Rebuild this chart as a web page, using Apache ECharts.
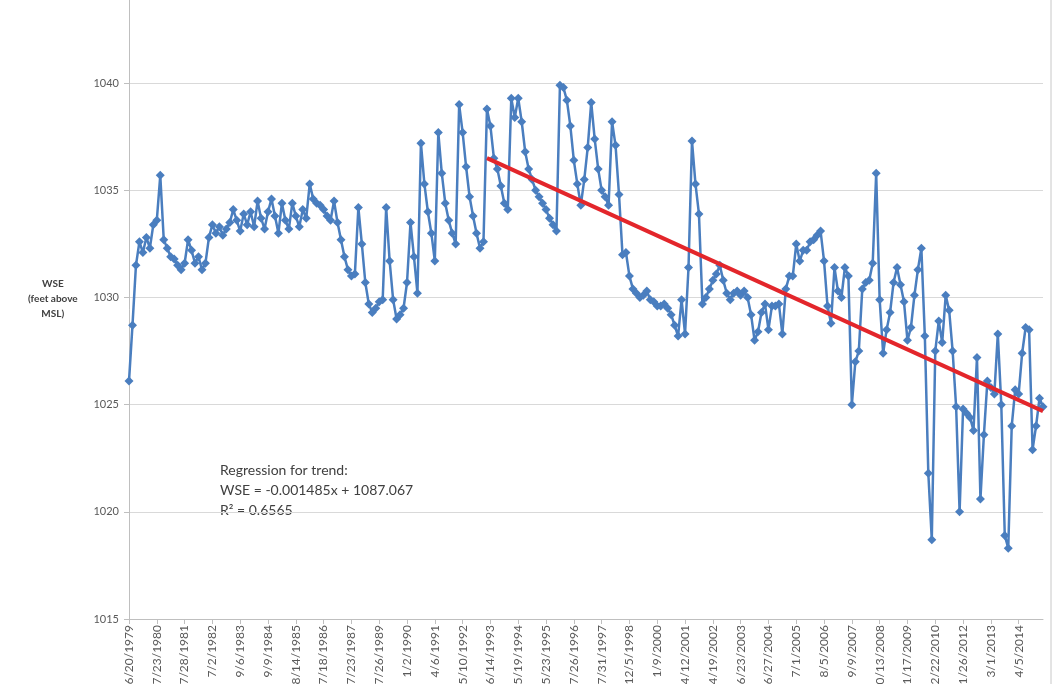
<!DOCTYPE html>
<html>
<head>
<meta charset="utf-8">
<script src="https://cdn.jsdelivr.net/npm/echarts@6/dist/echarts.min.js"></script>
<style>
html,body{margin:0;padding:0;background:#fff;}
#chart{width:1056px;height:684px;}
</style>
</head>
<body>
<div id="chart"></div>
<script>
// Tick labels shown on the category axis (one every 8 points)
const tickLabels = [
  "6/20/1979","7/23/1980","7/28/1981","7/2/1982","9/6/1983","9/9/1984","8/14/1985",
  "7/18/1986","7/23/1987","7/26/1989","1/2/1990","4/6/1991","5/10/1992","6/14/1993",
  "5/19/1994","5/23/1995","7/26/1996","7/31/1997","12/5/1998","1/9/2000","4/12/2001",
  "4/19/2002","6/23/2003","6/27/2004","7/1/2005","8/5/2006","9/9/2007","10/13/2008",
  "11/17/2009","12/22/2010","1/26/2012","3/1/2013","4/5/2014"
];
const pointsPerLabel = 8;

// Water surface elevation (feet above MSL)
const wse = [
  1026.1,1028.7,1031.5,1032.6,1032.1,1032.8,1032.3,1033.4,
  1033.6,1035.7,1032.7,1032.3,1031.9,1031.8,1031.5,1031.3,
  1031.6,1032.7,1032.2,1031.6,1031.9,1031.3,1031.6,1032.8,
  1033.4,1033.0,1033.3,1032.9,1033.2,1033.5,1034.1,1033.6,
  1033.1,1033.9,1033.4,1034.0,1033.3,1034.5,1033.7,1033.2,
  1034.0,1034.6,1033.8,1033.0,1034.4,1033.6,1033.2,1034.4,
  1033.8,1033.3,1034.1,1033.7,1035.3,1034.6,1034.4,1034.3,
  1034.1,1033.8,1033.6,1034.5,1033.5,1032.7,1031.9,1031.3,
  1031.0,1031.1,1034.2,1032.5,1030.7,1029.7,1029.3,1029.5,
  1029.8,1029.9,1034.2,1031.7,1029.9,1029.0,1029.2,1029.5,
  1030.7,1033.5,1031.9,1030.2,1037.2,1035.3,1034.0,1033.0,
  1031.7,1037.7,1035.8,1034.4,1033.6,1033.0,1032.5,1039.0,
  1037.7,1036.1,1034.7,1033.8,1033.0,1032.3,1032.6,1038.8,
  1038.0,1036.5,1036.0,1035.2,1034.4,1034.1,1039.3,1038.4,
  1039.3,1038.2,1036.8,1036.0,1035.5,1035.0,1034.7,1034.4,
  1034.1,1033.7,1033.4,1033.1,1039.9,1039.8,1039.2,1038.0,
  1036.4,1035.3,1034.3,1035.5,1037.0,1039.1,1037.4,1036.0,
  1035.0,1034.7,1034.3,1038.2,1037.1,1034.8,1032.0,1032.1,
  1031.0,1030.4,1030.2,1030.0,1030.1,1030.3,1029.9,1029.8,
  1029.6,1029.6,1029.7,1029.5,1029.2,1028.7,1028.2,1029.9,
  1028.3,1031.4,1037.3,1035.3,1033.9,1029.7,1030.0,1030.4,
  1030.8,1031.1,1031.5,1030.8,1030.2,1029.9,1030.2,1030.3,
  1030.1,1030.3,1030.0,1029.2,1028.0,1028.4,1029.3,1029.7,
  1028.5,1029.6,1029.6,1029.7,1028.3,1030.4,1031.0,1031.0,
  1032.5,1031.7,1032.2,1032.2,1032.6,1032.7,1032.9,1033.1,
  1031.7,1029.6,1028.8,1031.4,1030.3,1030.0,1031.4,1031.0,
  1025.0,1027.0,1027.5,1030.4,1030.7,1030.8,1031.6,1035.8,
  1029.9,1027.4,1028.5,1029.3,1030.7,1031.4,1030.6,1029.8,
  1028.0,1028.6,1030.1,1031.3,1032.3,1028.2,1021.8,1018.7,
  1027.5,1028.9,1027.9,1030.1,1029.4,1027.5,1024.9,1020.0,
  1024.8,1024.6,1024.4,1023.8,1027.2,1020.6,1023.6,1026.1,
  1025.8,1025.5,1028.3,1025.0,1018.9,1018.3,1024.0,1025.7,
  1025.5,1027.4,1028.6,1028.5,1022.9,1024.0,1025.3,1024.9
];

// Regression trend: point indices and fitted values at its two ends
const trendIndex = [103, 263];
const trendValue = [1036.5, 1024.7];

const yTicks = [1015, 1020, 1025, 1030, 1035, 1040];

const categories = wse.map((v, i) => String(i));

const chart = echarts.init(document.getElementById('chart'), null, {renderer: 'canvas'});
const txt = '#404040';
const fontFam = 'Lato, "Liberation Sans", sans-serif';
const trendData = trendIndex.map((ix, k) => (k === 0
  ? {value: [ix, trendValue[k]], symbol: 'triangle', symbolRotate: 90, symbolSize: 11}
  : {value: [ix, trendValue[k]], symbol: 'rect', symbolSize: 10}));

chart.setOption({
  animation: false,
  backgroundColor: '#ffffff',
  textStyle: {fontFamily: fontFam},
  grid: {left: 129, right: 13, top: -24, bottom: 65, containLabel: false, outerBoundsMode: 'none'},
  xAxis: {
    type: 'category',
    data: categories,
    boundaryGap: false,
    axisLine: {lineStyle: {color: '#bfbfbf', width: 1}},
    axisTick: {show: true, interval: pointsPerLabel - 1, length: 5, lineStyle: {color: '#bfbfbf'}},
    axisLabel: {
      interval: pointsPerLabel - 1,
      rotate: 90,
      margin: 6,
      fontSize: 12,
      color: '#595959',
      formatter: (val, idx) => (idx % pointsPerLabel === 0 ? tickLabels[idx / pointsPerLabel] : '')
    },
    splitLine: {show: false}
  },
  yAxis: {
    type: 'value',
    min: yTicks[0],
    max: 1045,
    interval: 5,
    axisLine: {show: true, lineStyle: {color: '#bfbfbf', width: 1}},
    axisTick: {show: true, length: 5, lineStyle: {color: '#bfbfbf'}},
    axisLabel: {
      margin: 10, fontSize: 11, color: '#595959',
      formatter: v => (yTicks.indexOf(v) >= 0 ? String(v) : '')
    },
    splitLine: {show: true, lineStyle: {color: '#d9d9d9', width: 1}}
  },
  series: [
    {
      type: 'line',
      data: wse,
      symbol: 'diamond',
      symbolSize: 9,
      showAllSymbol: true,
      lineStyle: {color: '#4a7ebf', width: 2.5},
      itemStyle: {color: '#4a7ebf'},
      z: 2
    },
    {
      type: 'line',
      data: trendData,
      lineStyle: {color: '#e3262b', width: 4},
      itemStyle: {color: '#e3262b'},
      z: 3
    }
  ],
  graphic: [
    {type: 'text', left: 28, top: 276, style: {text: 'WSE\n(feet above\nMSL)', textAlign: 'center', x: 22, fill: txt, font: 'bold 10px ' + fontFam, lineHeight: 15}},
    {type: 'text', left: 220, top: 463, style: {text: 'Regression for trend:', fill: txt, font: '14px ' + fontFam}},
    {type: 'text', left: 220, top: 483, style: {text: 'WSE = -0.001485x + 1087.067', fill: txt, font: '14px ' + fontFam}},
    {type: 'text', left: 220, top: 503, style: {text: 'R\u00B2 = 0.6565', fill: txt, font: '14px ' + fontFam}},
    {type: 'line', shape: {x1: 1051, y1: 0, x2: 1051, y2: 684}, style: {stroke: '#c8c8c8', lineWidth: 1}}
  ]
});
</script>
</body>
</html>
